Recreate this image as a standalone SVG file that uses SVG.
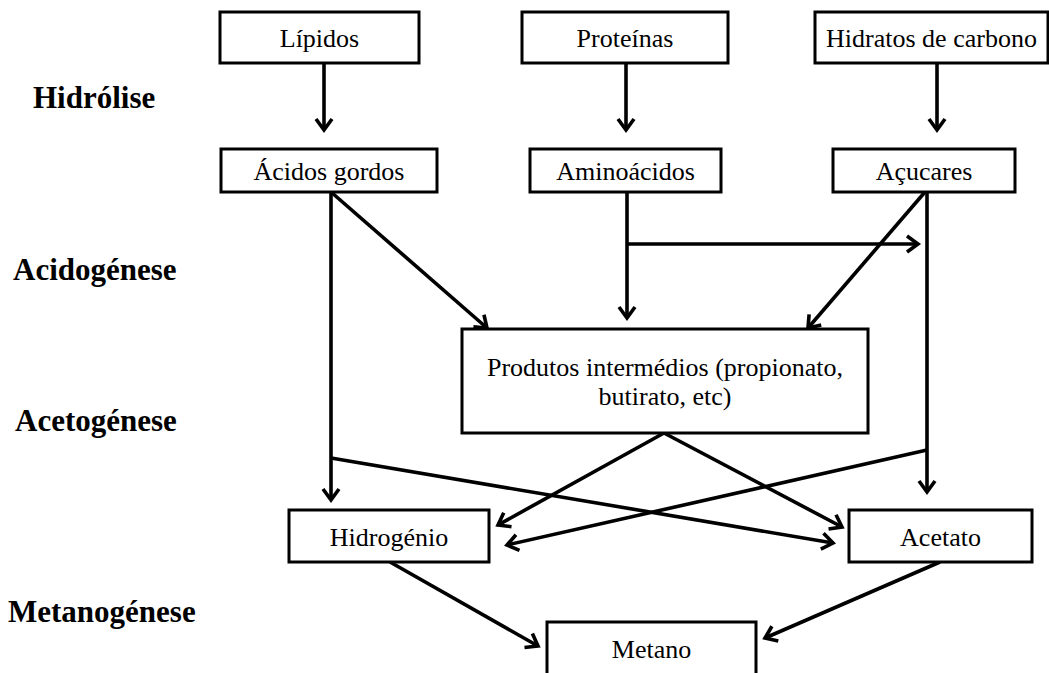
<svg xmlns="http://www.w3.org/2000/svg" width="1049" height="673" viewBox="0 0 1049 673">
<style>
.box{fill:#fff;stroke:#000;stroke-width:3}
.t{font-family:"Liberation Serif","Times New Roman",serif;font-size:26px;fill:#000;text-anchor:middle}
.lab{font-family:"Liberation Serif","Times New Roman",serif;font-size:31px;font-weight:bold;fill:#000}
.c{fill:none;stroke:#000;stroke-width:3.6}
</style>
<defs>
<marker id="ah" markerUnits="userSpaceOnUse" markerWidth="30" markerHeight="30" refX="0" refY="0" orient="auto" viewBox="-15 -15 30 30" overflow="visible">
<path d="M-11,-8 L0,0 L-11,8" fill="none" stroke="#000" stroke-width="3.6"/>
</marker>
</defs>
<rect width="1049" height="673" fill="#fff"/>
<g id="labels">
<text class="lab" x="33" y="108">Hidrólise</text>
<text class="lab" x="13" y="280">Acidogénese</text>
<text class="lab" x="15" y="431">Acetogénese</text>
<text class="lab" x="8" y="622">Metanogénese</text>
</g>
<g id="connectors">
<path class="c" d="M324,63 V130" marker-end="url(#ah)"/>
<path class="c" d="M626,63 V130" marker-end="url(#ah)"/>
<path class="c" d="M937,63 V130" marker-end="url(#ah)"/>
<path class="c" d="M331,192 V500" marker-end="url(#ah)"/>
<path class="c" d="M331,192 L487,328" marker-end="url(#ah)"/>
<path class="c" d="M627,192 V318" marker-end="url(#ah)"/>
<path class="c" d="M627,244 H918" marker-end="url(#ah)"/>
<path class="c" d="M925,192 L808,328" marker-end="url(#ah)"/>
<path class="c" d="M927,192 V492" marker-end="url(#ah)"/>
<path class="c" d="M927,450 L507,545" marker-end="url(#ah)"/>
<path class="c" d="M331,458 L833,543" marker-end="url(#ah)"/>
<path class="c" d="M664,433 L498,525" marker-end="url(#ah)"/>
<path class="c" d="M664,433 L842,527" marker-end="url(#ah)"/>
<path class="c" d="M390,562 L538,646" marker-end="url(#ah)"/>
<path class="c" d="M940,562 L765,638" marker-end="url(#ah)"/>
</g>
<g id="lipidos"><rect class="box" x="220" y="12" width="199" height="51"/><text class="t" x="319.5" y="47">Lípidos</text></g>
<g id="proteinas"><rect class="box" x="522" y="12" width="206" height="51"/><text class="t" x="625" y="47">Proteínas</text></g>
<g id="hidratos"><rect class="box" x="815" y="12" width="233" height="51"/><text class="t" x="931.5" y="47">Hidratos de carbono</text></g>
<g id="acidos"><rect class="box" x="221" y="149" width="216" height="43"/><text class="t" x="329" y="180">Ácidos gordos</text></g>
<g id="aminoacidos"><rect class="box" x="530" y="149" width="191" height="43"/><text class="t" x="625.5" y="180">Aminoácidos</text></g>
<g id="acucares"><rect class="box" x="833" y="149" width="182" height="43"/><text class="t" x="924" y="180">Açucares</text></g>
<g id="produtos"><rect class="box" x="462" y="329" width="406" height="104"/><text class="t" x="665" y="376">Produtos intermédios (propionato,</text><text class="t" x="665" y="405">butirato, etc)</text></g>
<g id="hidrogenio"><rect class="box" x="289" y="510" width="200" height="52"/><text class="t" x="389" y="546">Hidrogénio</text></g>
<g id="acetato"><rect class="box" x="849" y="510" width="183" height="52"/><text class="t" x="940.5" y="546">Acetato</text></g>
<g id="metano"><rect class="box" x="547" y="622" width="209" height="60"/><text class="t" x="651.5" y="658">Metano</text></g>
</svg>
